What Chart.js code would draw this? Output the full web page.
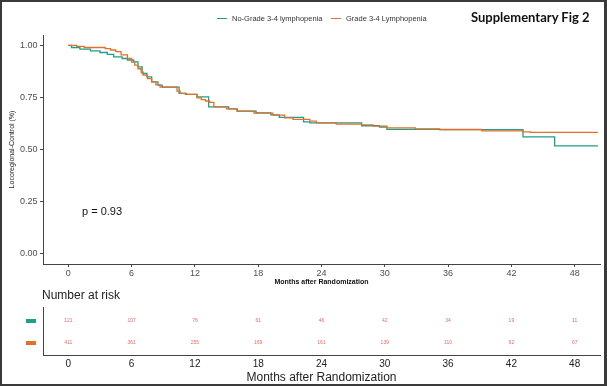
<!DOCTYPE html>
<html>
<head>
<meta charset="UTF-8">
<title>Supplementary Fig 2</title>
<script src="https://cdn.jsdelivr.net/npm/chart.js@4.4.1/dist/chart.umd.min.js"></script>
<style>
html, body { margin: 0; padding: 0; background: #fff; }
#wrap { position: relative; width: 607px; height: 386px; overflow: hidden; font-family: "Liberation Sans", Arial, sans-serif; }
#frame { position: absolute; left: 0; top: 0; width: 607px; height: 386px; box-sizing: border-box; border: 2px solid #3a3a3a; border-right-width: 3px; pointer-events: none; }
#main { position: absolute; left: 0; top: 0; }
#risk { position: absolute; left: 0; top: 285px; }
.fig-title { position: absolute; left: 471px; top: 9px; font-family: Lato, "Liberation Sans", sans-serif; font-weight: 700; font-size: 13px; color: #111; white-space: nowrap; }
.leg { position: absolute; top: 13px; font-size: 7.5px; line-height: 11px; color: #333; white-space: nowrap; }
.leg i { display: inline-block; width: 10px; height: 1.5px; vertical-align: middle; margin-right: 5px; margin-top: -1px; }
.pval { position: absolute; left: 82px; top: 205px; font-size: 11px; color: #111; }
.risk-title { position: absolute; left: 42px; top: 288px; font-size: 12px; color: #222; white-space: nowrap; }
</style>
</head>
<body>
<div id="wrap">
    <canvas id="main" width="607" height="290"></canvas>
    <canvas id="risk" width="607" height="101"></canvas>
    <div class="fig-title">Supplementary Fig 2</div>
    <div class="leg" style="left:217px"><i style="background:#1f9e89"></i>No-Grade 3-4 lymphopenia</div>
    <div class="leg" style="left:331px"><i style="background:#e2702a"></i>Grade 3-4 Lymphopenia</div>
    <div class="pval">p = 0.93</div>
    <div class="risk-title">Number at risk</div>
    <div id="frame"></div>
</div>
<script>
// values (months, survival proportion)
var xTicks = [0, 6, 12, 18, 24, 30, 36, 42, 48];
var yTicks = [0, 0.25, 0.5, 0.75, 1];

var noGradeTime = [0, 0.3, 1.1, 2.1, 3.0, 3.7, 4.3, 5.1, 5.6, 6.2, 6.6, 7.0, 7.45, 7.9, 8.5, 8.9, 10.5, 11.1, 12.2, 13.3, 15.2, 16.0, 17.8, 19.2, 20.0, 22.3, 22.9, 27.8, 29.5, 30.2, 35.2, 43.1, 46.1, 50.2];
var noGradeSurv = [1.0, 0.99, 0.982, 0.974, 0.966, 0.957, 0.945, 0.937, 0.930, 0.921, 0.897, 0.865, 0.849, 0.825, 0.809, 0.80, 0.77, 0.765, 0.753, 0.705, 0.695, 0.684, 0.676, 0.666, 0.654, 0.633, 0.628, 0.614, 0.608, 0.597, 0.595, 0.561, 0.517, 0.517];

var gradeTime = [0, 0.8, 1.5, 3.5, 4.0, 4.5, 5.0, 5.6, 6.0, 6.3, 6.6, 6.9, 7.1, 7.5, 7.9, 8.3, 8.7, 10.3, 10.6, 11.2, 12.2, 12.6, 13.0, 13.4, 13.8, 15.0, 16.0, 17.6, 19.4, 20.5, 21.3, 22.9, 23.5, 25.4, 27.8, 28.9, 30.2, 32.9, 35.2, 39.2, 43.1, 43.8, 50.2];
var gradeSurv = [1.0, 0.995, 0.99, 0.985, 0.978, 0.97, 0.955, 0.937, 0.92, 0.905, 0.888, 0.872, 0.857, 0.84, 0.825, 0.81, 0.80, 0.78, 0.77, 0.765, 0.748, 0.74, 0.733, 0.726, 0.705, 0.695, 0.684, 0.675, 0.665, 0.652, 0.645, 0.636, 0.628, 0.622, 0.618, 0.612, 0.604, 0.599, 0.596, 0.589, 0.585, 0.582, 0.582];

var riskTime = [0, 6, 12, 18, 24, 30, 36, 42, 48];
var riskNoGrade = [121, 107, 76, 61, 46, 42, 34, 19, 11];
var riskGrade = [411, 361, 255, 169, 161, 139, 110, 92, 67];

var GREEN = '#1f9e89';
var ORANGE = '#e2702a';
var FONT = '"Liberation Sans", Arial, sans-serif';

Chart.defaults.font.family = FONT;

function toPoints(ts, vals) {
    return ts.map(function(t, i) { return {x: t, y: vals[i]}; });
}

function fixedTicks(list) {
    return function(scale) {
        scale.ticks = list.map(function(v) { return {value: v}; });
    };
}

new Chart(document.getElementById('main'), {
    type: 'line',
    data: {
        datasets: [
            {label: 'No-Grade 3-4 lymphopenia', data: toPoints(noGradeTime, noGradeSurv), borderColor: GREEN,
             borderWidth: 1.3, stepped: true, pointRadius: 0, fill: false, order: 1},
            {label: 'Grade 3-4 Lymphopenia', data: toPoints(gradeTime, gradeSurv), borderColor: ORANGE,
             borderWidth: 1.3, stepped: true, pointRadius: 0, fill: false, order: 0}
        ]
    },
    options: {
        responsive: false,
        animation: false,
        layout: {padding: {top: 35, right: 7, left: 0, bottom: 0}},
        plugins: {legend: {display: false}, tooltip: {enabled: false}},
        scales: {
            x: {
                type: 'linear', min: -2.4, max: 50.4,
                afterBuildTicks: fixedTicks(xTicks),
                afterFit: function(s) { s.height = 26; },
                grid: {drawOnChartArea: false, tickLength: 3, color: '#444'},
                border: {display: true, color: '#444', width: 1},
                ticks: {font: {size: 9}, color: '#4d4d4d', padding: 1, maxRotation: 0, autoSkip: false},
                title: {display: true, text: 'Months after Randomization', font: {size: 7, weight: 'bold'}, color: '#111', padding: {top: 0, bottom: 4}}
            },
            y: {
                type: 'linear', min: -0.05, max: 1.05,
                afterBuildTicks: fixedTicks(yTicks),
                afterFit: function(s) { s.width = 43; },
                grid: {drawOnChartArea: false, tickLength: 3, color: '#444'},
                border: {display: true, color: '#444', width: 1},
                ticks: {font: {size: 9}, color: '#4d4d4d', padding: 2.5,
                        callback: function(v) { return v.toFixed(2); }},
                title: {display: true, text: 'Locoregional-Control (%)', font: {size: 7}, color: '#222', padding: {top: 7.5, bottom: 0}}
            }
        }
    }
});

// numbers at risk drawn at the dataset points, plus the coloured row keys
var riskRows = {
    id: 'riskRows',
    afterDatasetsDraw: function(chart) {
        var ctx = chart.ctx;
        ctx.save();
        chart.data.datasets.forEach(function(ds, i) {
            var meta = chart.getDatasetMeta(i);
            ctx.font = '5px ' + FONT;
            ctx.fillStyle = '#ee6b66';
            ctx.textAlign = 'center';
            ctx.textBaseline = 'middle';
            meta.data.forEach(function(pt, j) {
                ctx.fillText(String(ds.counts[j]), pt.x, pt.y);
            });
            var y = chart.scales.y.getPixelForValue(ds.data[0].y);
            ctx.fillStyle = ds.keyColor;
            ctx.fillRect(26, Math.round(y) - 2, 10, 4);
        });
        ctx.restore();
    }
};

function riskPoints(row) {
    return riskTime.map(function(t) { return {x: t, y: row}; });
}

new Chart(document.getElementById('risk'), {
    type: 'scatter',
    data: {
        datasets: [
            {data: riskPoints(2), counts: riskNoGrade, keyColor: GREEN, pointRadius: 0},
            {data: riskPoints(1), counts: riskGrade, keyColor: ORANGE, pointRadius: 0}
        ]
    },
    options: {
        responsive: false,
        animation: false,
        layout: {padding: {top: 22, right: 7, left: 0, bottom: 0}},
        plugins: {legend: {display: false}, tooltip: {enabled: false}},
        scales: {
            x: {
                type: 'linear', min: -2.4, max: 50.4,
                afterBuildTicks: fixedTicks(xTicks),
                afterFit: function(s) { s.height = 31; },
                grid: {display: false, drawTicks: false},
                border: {display: true, color: '#444', width: 1},
                ticks: {font: {size: 10}, color: '#222', padding: 3, maxRotation: 0, autoSkip: false},
                title: {display: true, text: 'Months after Randomization', font: {size: 12}, color: '#222', padding: {top: 0, bottom: 1}}
            },
            y: {
                type: 'linear', min: 0.42, max: 2.65,
                afterFit: function(s) { s.width = 43; },
                grid: {display: false, drawTicks: false},
                border: {display: true, color: '#444', width: 1},
                ticks: {display: false}
            }
        }
    },
    plugins: [riskRows]
});
</script>
</body>
</html>
